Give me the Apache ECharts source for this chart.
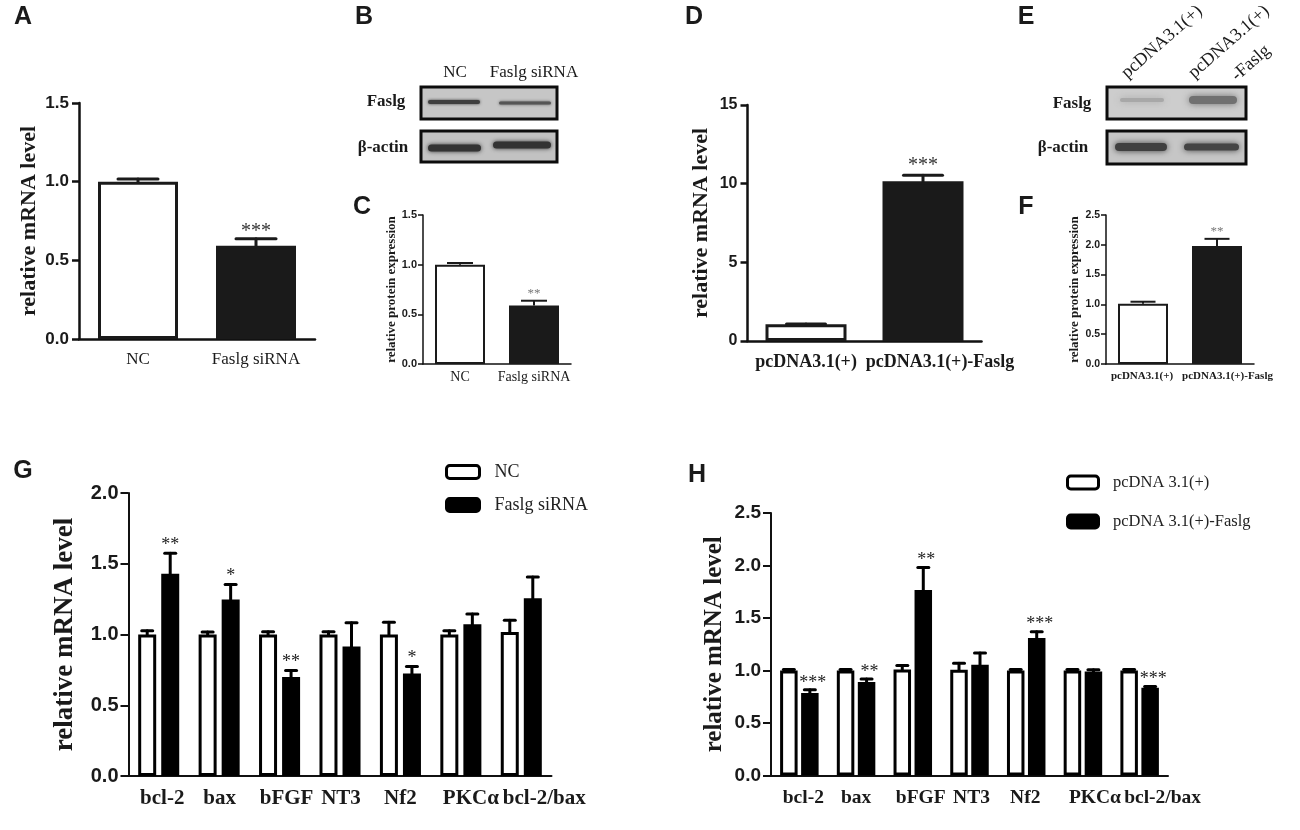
<!DOCTYPE html>
<html><head><meta charset="utf-8">
<style>html,body{margin:0;padding:0;background:#fff}#c{width:1300px;height:830px}</style>
<script src="https://cdn.jsdelivr.net/npm/echarts@6/dist/echarts.min.js"></script>
</head><body><div id="c"></div>
<script>
const catsA = ['NC', 'Faslg siRNA'];
const valsA = [1.0, 0.592];
const errA = [1.017, 0.637];
const starsA = ['', '***'];

const catsC = ['NC', 'Faslg siRNA'];
const valsC = [1.0, 0.59];
const errC = [1.017, 0.637];
const starsC = ['', '**'];

const catsD = ['pcDNA3.1(+)', 'pcDNA3.1(+)-Faslg'];
const valsD = [1.06, 10.16];
const errD = [1.08, 10.54];
const starsD = ['', '***'];

const catsF = ['pcDNA3.1(+)', 'pcDNA3.1(+)-Faslg'];
const valsF = [1.01, 1.98];
const errF = [1.045, 2.10];
const starsF = ['', '**'];

const genes = ['bcl-2', 'bax', 'bFGF', 'NT3', 'Nf2', 'PKCα', 'bcl-2/bax'];
const gNC = [1.0, 1.0, 1.0, 1.0, 1.0, 1.0, 1.017];
const gNCerr = [1.026, 1.017, 1.02, 1.02, 1.087, 1.026, 1.10];
const gSi = [1.43, 1.248, 0.70, 0.915, 0.724, 1.073, 1.257];
const gSiErr = [1.575, 1.354, 0.745, 1.083, 0.774, 1.144, 1.406];
const gStars = ['**', '*', '**', '', '*', '', ''];

const hCtl = [1.0, 1.0, 1.01, 1.007, 1.0, 1.0, 1.0];
const hCtlErr = [1.01, 1.01, 1.048, 1.07, 1.01, 1.01, 1.01];
const hFas = [0.785, 0.89, 1.766, 1.055, 1.309, 0.99, 0.835];
const hFasErr = [0.816, 0.918, 1.982, 1.166, 1.369, 1.007, 0.848];
const hStars = ['***', '**', '**', '', '***', '', '***'];

const SERIF = '"Liberation Serif", serif';
const SANS = '"Liberation Sans", Arial, sans-serif';
const INK = '#1a1a1a';

const grid = [], xAxis = [], yAxis = [], series = [];

function errSeries(idx, vals, highs, stars, cfg, dx) {
  series.push({
    type: 'custom', xAxisIndex: idx, yAxisIndex: idx, z: 5, clip: false,
    silent: true,
    data: vals.map((v, i) => [i, v, highs[i]]),
    encode: { x: 0, y: [1, 2] },
    renderItem(params, api) {
      const i = api.value(0);
      const a = api.coord([i, api.value(1)]);
      const b = api.coord([i, api.value(2)]);
      const x = a[0] + dx;
      const lineStyle = { stroke: cfg.barColor, lineWidth: cfg.errW, lineCap: cfg.round ? 'round' : 'butt' };
      const children = [
        { type: 'line', shape: { x1: x, y1: a[1], x2: x, y2: b[1] }, style: lineStyle },
        { type: 'line', shape: { x1: x - cfg.capW / 2, y1: b[1], x2: x + cfg.capW / 2, y2: b[1] }, style: lineStyle }
      ];
      const s = stars[params.dataIndex];
      if (s) children.push({
        type: 'text',
        style: { text: s, x: x + (cfg.starDx || 0), y: b[1] - cfg.starGap, align: 'center', verticalAlign: 'middle',
          font: cfg.starFont, fill: cfg.starColor, textAlign: 'center', textVerticalAlign: 'middle' }
      });
      return { type: 'group', children };
    }
  });
}

function panel(cfg) {
  const idx = grid.length;
  grid.push({ left: cfg.left, width: cfg.width, top: cfg.top, height: cfg.height, containLabel: false });
  xAxis.push({
    type: 'category', gridIndex: idx,
    data: cfg.cats.map((c, i) => ({ value: c, textStyle: { padding: cfg.shift ? (cfg.shift[i] >= 0 ? [0, 0, 0, cfg.shift[i] * 2] : [0, -cfg.shift[i] * 2, 0, 0]) : 0 } })),
    axisLine: { lineStyle: { color: '#111', width: cfg.axisW } },
    axisTick: { alignWithLabel: true, length: cfg.tick, lineStyle: { color: '#111', width: cfg.axisW } },
    axisLabel: { interval: 0, hideOverlap: false, margin: cfg.xMargin, color: INK, fontFamily: SERIF, fontSize: cfg.xFont, fontWeight: cfg.xWeight },
    splitLine: { show: false }
  });
  yAxis.push({
    type: 'value', gridIndex: idx, min: 0, max: cfg.max, interval: cfg.step,
    name: cfg.yName, nameLocation: 'middle', nameGap: cfg.nameGap, nameRotate: 90,
    nameTextStyle: { fontFamily: SERIF, fontWeight: 'bold', fontSize: cfg.nameFont, color: INK },
    axisLine: { show: true, lineStyle: { color: '#111', width: cfg.axisW } },
    axisTick: { show: true, length: cfg.tick, lineStyle: { color: '#111', width: cfg.axisW } },
    axisLabel: { margin: cfg.yMargin, color: INK, fontFamily: SANS, fontWeight: 'bold', fontSize: cfg.yFont,
      formatter: v => cfg.step >= 1 ? String(v) : v.toFixed(1) },
    splitLine: { show: false }
  });
  return idx;
}

function twoBar(cfg) {
  const idx = panel(cfg);
  series.push({
    type: 'bar', name: cfg.seriesName, xAxisIndex: idx, yAxisIndex: idx, barWidth: cfg.barWidth, z: 3,
    data: cfg.vals.map((v, i) => ({
      value: v,
      itemStyle: { color: i === 0 ? '#fff' : cfg.barColor, borderColor: cfg.barColor, borderWidth: cfg.barBorder }
    }))
  });
  errSeries(idx, cfg.vals, cfg.err, cfg.stars, cfg, 0);
}

function groupBar(cfg) {
  const idx = panel(cfg);
  series.push({
    type: 'bar', name: cfg.names[0], xAxisIndex: idx, yAxisIndex: idx, barWidth: cfg.barWidth, barGap: cfg.barGap, z: 3,
    data: cfg.a, itemStyle: { color: '#fff', borderColor: '#000', borderWidth: cfg.barBorder }
  });
  series.push({
    type: 'bar', name: cfg.names[1], xAxisIndex: idx, yAxisIndex: idx, barWidth: cfg.barWidth, barGap: cfg.barGap, z: 3,
    data: cfg.b, itemStyle: { color: '#000', borderColor: '#000', borderWidth: cfg.barBorder }
  });
  errSeries(idx, cfg.a, cfg.aErr, cfg.a.map(() => ''), cfg, -cfg.dx);
  errSeries(idx, cfg.b, cfg.bErr, cfg.stars, cfg, cfg.dx);
}

twoBar({ cats: catsA, vals: valsA, err: errA, stars: starsA, seriesName: 'A', yName: 'relative mRNA level',
  left: 79, width: 236, top: 103, height: 236, max: 1.5, step: 0.5, axisW: 2.5, tick: 7,
  xFont: 17, xWeight: 'normal', xMargin: 12, yFont: 17, yMargin: 10, nameFont: 22, nameGap: 39,
  barWidth: 80, barBorder: 3, barColor: INK, errW: 3, capW: 40, starGap: 7, starFont: '20px ' + SERIF, starColor: '#333', round: true });

twoBar({ cats: catsC, vals: valsC, err: errC, stars: starsC, seriesName: 'C', yName: 'relative protein expression',
  left: 423, width: 148, top: 215, height: 149, max: 1.5, step: 0.5, axisW: 1.5, tick: 5,
  xFont: 14, xWeight: 'normal', xMargin: 6, yFont: 11, yMargin: 6, nameFont: 13, nameGap: 25,
  barWidth: 50, barBorder: 2, barColor: INK, errW: 2, capW: 26, starGap: 7, starFont: '13px ' + SERIF, starColor: '#777' });

twoBar({ cats: catsD, vals: valsD, err: errD, stars: starsD, seriesName: 'D', yName: 'relative mRNA level',
  left: 747.5, width: 234, top: 105, height: 236, max: 15, step: 5, axisW: 2.5, tick: 7, shift: [0, 17],
  xFont: 18, xWeight: 'bold', xMargin: 12, yFont: 16, yMargin: 10, nameFont: 22, nameGap: 35,
  barWidth: 81, barBorder: 3, barColor: INK, errW: 3, capW: 39, starGap: 9, starFont: '20px ' + SERIF, starColor: '#333', round: true });

twoBar({ cats: catsF, vals: valsF, err: errF, stars: starsF, seriesName: 'F', yName: 'relative protein expression',
  left: 1106, width: 148, top: 215, height: 149, max: 2.5, step: 0.5, axisW: 1.5, tick: 5, shift: [-1, 10.5],
  xFont: 11, xWeight: 'bold', xMargin: 7, yFont: 10.5, yMargin: 6, nameFont: 13, nameGap: 25,
  barWidth: 50, barBorder: 2, barColor: INK, errW: 2, capW: 25, starGap: 7, starFont: '13px ' + SERIF, starColor: '#777' });

groupBar({ cats: genes, a: gNC, aErr: gNCerr, b: gSi, bErr: gSiErr, stars: gStars, names: ['NC', 'Faslg siRNA'],
  yName: 'relative mRNA level', left: 128.5, width: 423, top: 493, height: 283, max: 2.0, step: 0.5, axisW: 2, tick: 8,
  shift: [3.5, 0.5, 7, 1, 0, 10, 23],
  xFont: 21, xWeight: 'bold', xMargin: 12, yFont: 20, yMargin: 10, nameFont: 27, nameGap: 50,
  barWidth: 18, barGap: '28%', barBorder: 3, dx: 11.5, barColor: '#000', errW: 3, capW: 11, round: true,
  starGap: 8, starFont: '18px ' + SERIF, starColor: '#222' });

groupBar({ cats: genes, a: hCtl, aErr: hCtlErr, b: hFas, bErr: hFasErr, stars: hStars, names: ['pcDNA 3.1(+)', 'pcDNA 3.1(+)-Faslg'],
  yName: 'relative mRNA level', left: 771, width: 397, top: 513, height: 262.5, max: 2.5, step: 0.5, axisW: 2, tick: 8,
  shift: [4, 0, 8, 2, -1, 12, 23],
  xFont: 19.5, xWeight: 'bold', xMargin: 12, yFont: 19, yMargin: 10, nameFont: 25, nameGap: 44,
  barWidth: 17.5, barGap: '20%', barBorder: 3, dx: 10.5, barColor: '#000', errW: 3, capW: 11, round: true,
  starDx: 3, starGap: 7, starFont: '18px ' + SERIF, starColor: '#222' });

function txt(text, x, y, font, fill, rot) {
  return { type: 'text', x, y, rotation: rot || 0, z: 20,
    style: { text, font, fill: fill || INK, align: 'center', verticalAlign: 'middle', textAlign: 'center', textVerticalAlign: 'middle' } };
}
function blot(x, y, w, h, bg, bands) {
  const out = [{ type: 'rect', z: 10, shape: { x, y, width: w, height: h }, style: { fill: bg } }];
  bands.forEach(b => out.push({ type: 'rect', z: 11, shape: { x: b[0], y: b[1] - b[3] / 2, width: b[2], height: b[3], r: b[3] / 2 },
    style: { fill: b[4], shadowBlur: b[5], shadowColor: b[4] } }));
  out.push({ type: 'rect', z: 12, shape: { x, y, width: w, height: h }, style: { fill: 'none', stroke: '#0c0c0c', lineWidth: 3 } });
  return out;
}
const LETTER = 'bold 25px ' + SANS;
const BLOT = 'bold 17px ' + SERIF;
const graphic = [
  txt('A', 23, 17, LETTER), txt('B', 364, 17, LETTER), txt('C', 362, 207, LETTER),
  txt('D', 694, 17, LETTER), txt('E', 1026, 17, LETTER), txt('F', 1026, 207, LETTER),
  txt('G', 23, 471, LETTER), txt('H', 697, 475, LETTER),
  txt('NC', 455, 73, '17px ' + SERIF), txt('Faslg siRNA', 534, 73, '17px ' + SERIF),
  txt('Faslg', 386, 102, BLOT), txt('β-actin', 383, 148, BLOT),
  ...blot(421, 87, 136, 32, '#c6c6c6', [[428, 102, 52, 4, '#3f3f3f', 3], [499, 103, 52, 3, '#555', 3]]),
  ...blot(421, 131, 136, 31, '#c2c2c2', [[428, 148, 53, 7, '#333', 4], [493, 145, 58, 7, '#333', 4]]),
  txt('pcDNA3.1(+)', 1162, 42, '18px ' + SERIF, INK, 0.72),
  txt('pcDNA3.1(+)', 1229, 42, '18px ' + SERIF, INK, 0.72),
  txt('-Faslg', 1251, 63, '18px ' + SERIF, INK, 0.72),
  txt('Faslg', 1072, 104, BLOT), txt('β-actin', 1063, 148, BLOT),
  ...blot(1107, 87, 139, 32, '#cdcdcd', [[1120, 100, 44, 4, '#a8a8a8', 7], [1189, 100, 48, 8, '#707070', 7]]),
  ...blot(1107, 131, 139, 33, '#c6c6c6', [[1115, 147, 52, 8, '#404040', 6], [1184, 147, 55, 7, '#444', 6]])
];

const legend = [
  { left: 440, top: 458, orient: 'vertical', data: ['NC', 'Faslg siRNA'], itemWidth: 33, itemHeight: 13, itemGap: 15,
    itemStyle: { borderWidth: 3 },
    textStyle: { fontFamily: SERIF, fontSize: 18, color: '#222', padding: [0, 0, 0, 10] }, selectedMode: false, icon: 'roundRect' },
  { left: 1061, top: 469, orient: 'vertical', data: ['pcDNA 3.1(+)', 'pcDNA 3.1(+)-Faslg'], itemWidth: 31, itemHeight: 13, itemGap: 22,
    itemStyle: { borderWidth: 3 },
    textStyle: { fontFamily: SERIF, fontSize: 16.5, color: '#222', padding: [0, 0, 0, 9.5] }, selectedMode: false, icon: 'roundRect' }
];

const chart = echarts.init(document.getElementById('c'), null, { renderer: 'canvas' });
chart.setOption({ animation: false, backgroundColor: '#fff', tooltip: { show: false }, grid, xAxis, yAxis, series, legend, graphic });
</script></body></html>
